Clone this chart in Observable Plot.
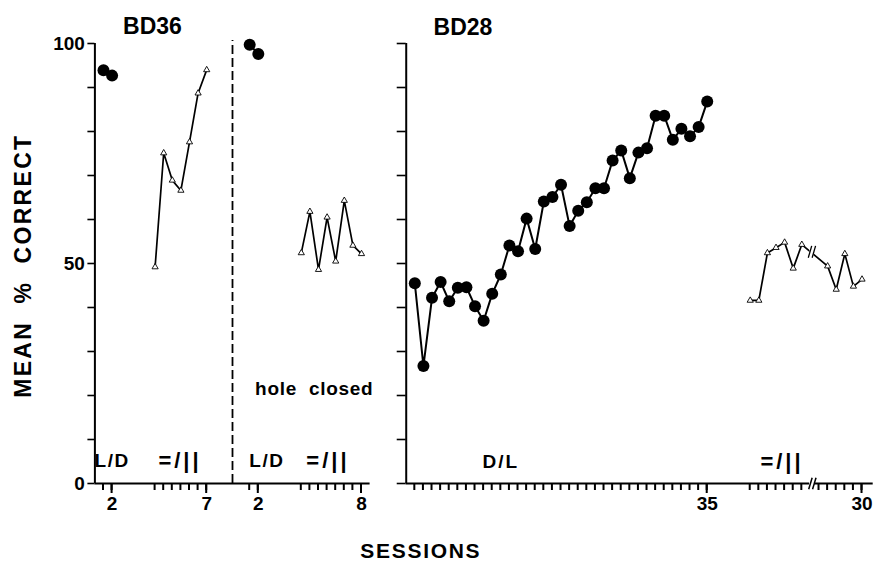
<!DOCTYPE html>
<html><head><meta charset="utf-8">
<script src="https://cdn.jsdelivr.net/npm/d3@7"></script>
<script src="https://cdn.jsdelivr.net/npm/@observablehq/plot@0.6"></script>
<style>
html,body{margin:0;padding:0;background:#fff;}
#chart{width:883px;height:565px;}
</style></head><body><div id="chart"></div>
<script>
// ---------- data ----------
const bd36LD1Sessions = [1, 2];
const bd36LD1Values = [93.9, 92.7];
const bd36EQ1Sessions = [1, 2, 3, 4, 5, 6, 7];
const bd36EQ1Values = [49.2, 75.1, 68.9, 66.6, 77.6, 88.7, 94.0];
const bd36LD2Sessions = [1, 2];
const bd36LD2Values = [99.7, 97.6];
const bd36EQ2Sessions = [1, 2, 3, 4, 5, 6, 7, 8];
const bd36EQ2Values = [52.4, 61.8, 48.6, 60.5, 50.5, 64.3, 54.1, 52.2];

const bd28DLSessions = [1,2,3,4,5,6,7,8,9,10,11,12,13,14,15,16,17,18,19,20,21,22,23,24,25,26,27,28,29,30,31,32,33,34,35];
const bd28DLValues = [45.5, 26.7, 42.2, 45.8, 41.4, 44.5, 44.6, 40.3, 37.0, 43.1,
                      47.5, 54.1, 52.8, 60.2, 53.3, 64.1, 65.1, 67.9, 58.5, 62.0,
                      63.9, 67.1, 67.1, 73.4, 75.7, 69.4, 75.2, 76.2, 83.6, 83.6,
                      78.1, 80.6, 78.9, 81.0, 86.8];
const bd28EQSessions = [1, 2, 3, 4, 5, 6, 7, 26, 27, 28, 29, 30];
const bd28EQValues = [41.6, 41.6, 52.4, 53.6, 54.8, 48.9, 54.3, 49.4, 44.1, 52.2, 44.8, 46.4];

const yTicks = [0, 10, 20, 30, 40, 50, 60, 70, 80, 90, 100];
const yTickLabels = ["0", "", "", "", "", "50", "", "", "", "", "100"];
const bd36LD1Ticks = [1, 2], bd36EQ1Ticks = [1, 2, 3, 4, 5, 6, 7];
const bd36LD2Ticks = [1, 2], bd36EQ2Ticks = [1, 2, 3, 4, 5, 6, 7, 8];
const bd28DLTicks = bd28DLSessions;
const bd28EQTicks = [1, 2, 3, 4, 5, 6, 7, 25, 26, 27, 28, 29, 30];
const xTickLabels = [["bd36LD1", 2, "2"], ["bd36EQ1", 7, "7"], ["bd36LD2", 2, "2"], ["bd36EQ2", 8, "8"], ["bd28DL", 35, "35"], ["bd28EQ", 30, "30"]];

// ---------- layout (slot positions on one shared session axis) ----------
const R0 = 36.2; // start of the BD28 panel
const pos = {
  bd36LD1: s => s,
  bd36EQ1: s => 6 + s,
  bd36LD2: s => 17 + s,
  bd36EQ2: s => 23 + s,
  bd28DL: s => R0 + s,
  bd28EQ: s => (s <= 8 ? R0 + 39 + s : R0 + 23 + s)
};
const divider = 16;
const breakX = R0 + 47.0;

const series = (key, ss, vs) => ss.map((s, i) => ({x: pos[key](s), y: vs[i]}));
const ld1 = series("bd36LD1", bd36LD1Sessions, bd36LD1Values);
const eq1 = series("bd36EQ1", bd36EQ1Sessions, bd36EQ1Values);
const ld2 = series("bd36LD2", bd36LD2Sessions, bd36LD2Values);
const eq2 = series("bd36EQ2", bd36EQ2Sessions, bd36EQ2Values);
const dl = series("bd28DL", bd28DLSessions, bd28DLValues);
const eq3 = series("bd28EQ", bd28EQSessions, bd28EQValues);

const PXX = 8.6, PXY = 4.4; // pixels per x-unit / y-unit
const tickHalf = 1 / PXX;   // half of a 2px tick width
const smallTicks = [
  ...bd36LD1Ticks.map(pos.bd36LD1), ...bd36EQ1Ticks.map(pos.bd36EQ1),
  ...bd36LD2Ticks.map(pos.bd36LD2), ...bd36EQ2Ticks.map(pos.bd36EQ2),
  ...bd28DLTicks.map(pos.bd28DL), ...bd28EQTicks.map(pos.bd28EQ)
].map(x => ({x, len: 7 / PXY}));
const labelTicks = xTickLabels.map(([k, s, t]) => ({x: pos[k](s), t, len: 10 / PXY}));
const yLabelled = yTicks.map((v, i) => ({y: v, t: yTickLabels[i]})).filter(d => d.t);

const FONT = "Liberation Sans, Arial, sans-serif";
const lineW = 2, triLineW = 1.7;

const chart = Plot.plot({
  width: 883, height: 565,
  marginLeft: 94.4, marginRight: 6, marginTop: 43, marginBottom: 82,
  x: {domain: [0, 91], axis: null},
  y: {domain: [0, 100], axis: null},
  style: {fontFamily: FONT, fontWeight: "bold", fontSize: "18px", background: "white", color: "black"},
  marks: [
    // x ticks (thin bars hanging below the axis) and labels
    Plot.rect([...smallTicks, ...labelTicks], {x1: d => d.x - tickHalf, x2: d => d.x + tickHalf, y1: d => -d.len, y2: 0, fill: "black"}),
    Plot.text(labelTicks, {x: "x", y: 0, text: "t", dy: 20, fontSize: 19, fontWeight: "bold", lineAnchor: "middle"}),
    // axes lines
    Plot.ruleX([0], {y1: 0, y2: 100, strokeWidth: 2}),
    Plot.ruleX([R0], {y1: 0, y2: 100, strokeWidth: 2}),
    Plot.ruleY([0], {x1: 0, x2: 32, strokeWidth: 2}),
    Plot.ruleY([0], {x1: R0, x2: breakX - 0.1, strokeWidth: 2}),
    Plot.ruleY([0], {x1: breakX + 0.5, x2: R0 + 54.3, strokeWidth: 2}),
    Plot.link([breakX, breakX + 0.45], {x1: d => d - 0.2, x2: d => d + 0.2, y1: -1.3, y2: 1.3, strokeWidth: 1.5}),
    // y ticks (both panels) and labels
    Plot.ruleY(yTicks, {y: d => d, x1: -7 / PXX, x2: 0, strokeWidth: 1.6}),
    Plot.ruleY(yTicks, {y: d => d, x1: R0 - 9 / PXX, x2: R0, strokeWidth: 1.6}),
    Plot.text(yLabelled, {x: 0, y: "y", text: "t", textAnchor: "end", dx: -10, fontSize: 19, fontWeight: "bold", lineAnchor: "middle"}),
    // divider
    Plot.ruleX([divider], {y1: 0, y2: 100.7, strokeWidth: 1.8, strokeDasharray: "9,4"}),
    // BD36 data
    Plot.line(ld1, {x: "x", y: "y", strokeWidth: lineW}),
    Plot.dot(ld1, {x: "x", y: "y", r: 6, fill: "black"}),
    Plot.line(eq1, {x: "x", y: "y", strokeWidth: triLineW}),
    Plot.dot(eq1, {x: "x", y: "y", symbol: "triangle", r: 2.3, fill: "white", stroke: "black", strokeWidth: 0.9}),
    Plot.line(ld2, {x: "x", y: "y", strokeWidth: lineW}),
    Plot.dot(ld2, {x: "x", y: "y", r: 6, fill: "black"}),
    Plot.line(eq2, {x: "x", y: "y", strokeWidth: triLineW}),
    Plot.dot(eq2, {x: "x", y: "y", symbol: "triangle", r: 2.3, fill: "white", stroke: "black", strokeWidth: 0.9}),
    // BD28 data
    Plot.line(dl, {x: "x", y: "y", strokeWidth: lineW}),
    Plot.dot(dl, {x: "x", y: "y", r: 6, fill: "black"}),
    Plot.line(eq3, {x: "x", y: "y", strokeWidth: triLineW}),
    Plot.rect([0], {x1: breakX - 0.05, x2: breakX + 0.4, y1: 48, y2: 57, fill: "white"}),
    Plot.link([breakX - 0.05, breakX + 0.4], {x1: d => d - 0.2, x2: d => d + 0.2, y1: 51.3, y2: 54.0, strokeWidth: 1.3}),
    Plot.dot(eq3, {x: "x", y: "y", symbol: "triangle", r: 2.3, fill: "white", stroke: "black", strokeWidth: 0.9}),
    // annotations
    Plot.text([
      {x: 2.0, y: 5.2, t: "L/D"}, {x: 20.0, y: 5.2, t: "L/D"}, {x: R0 + 11.0, y: 4.8, t: "D/L"}
    ], {x: "x", y: "y", text: "t", fontSize: 19, fontWeight: "bold", lineAnchor: "middle"}),
    Plot.text([
      {x: 9.9, y: 5.2, t: "=/||"}, {x: 27.1, y: 5.2, t: "=/||"}, {x: R0 + 43.7, y: 4.8, t: "=/||"}
    ], {x: "x", y: "y", text: "t", fontSize: 22, fontWeight: "bold", lineAnchor: "middle"}),
    Plot.text([{x: 25.5, y: 21.6, t: "hole  closed"}], {x: "x", y: "y", text: "t", fontSize: 19, fontWeight: "bold", lineAnchor: "middle"}),
    Plot.text([{x: 6.7, y: 103.9, t: "BD36"}, {x: 42.8, y: 103.6, t: "BD28"}],
      {x: "x", y: "y", text: "t", fontSize: 23, fontWeight: "bold", lineAnchor: "middle"}),
    Plot.text([{x: -8.3, y: 49.5, t: "MEAN  %  CORRECT"}],
      {x: "x", y: "y", text: "t", rotate: -90, fontSize: 23, fontWeight: "bold", lineAnchor: "middle"}),
    Plot.text([{x: 37.9, y: -15.5, t: "SESSIONS"}],
      {x: "x", y: "y", text: "t", fontSize: 21, fontWeight: "bold", lineAnchor: "middle"})
  ]
});

// typographic touch-ups (letter spacing)
const spacing = {"L/D": 1.5, "D/L": 2, "=/||": 3, "hole  closed": 0.7, "MEAN  %  CORRECT": 2.3, "SESSIONS": 1.7};
d3.select(chart).selectAll("text").each(function () {
  const t = this.textContent;
  if (spacing[t] != null) d3.select(this).style("letter-spacing", spacing[t] + "px");
});
document.getElementById("chart").appendChild(chart);
</script></body></html>
